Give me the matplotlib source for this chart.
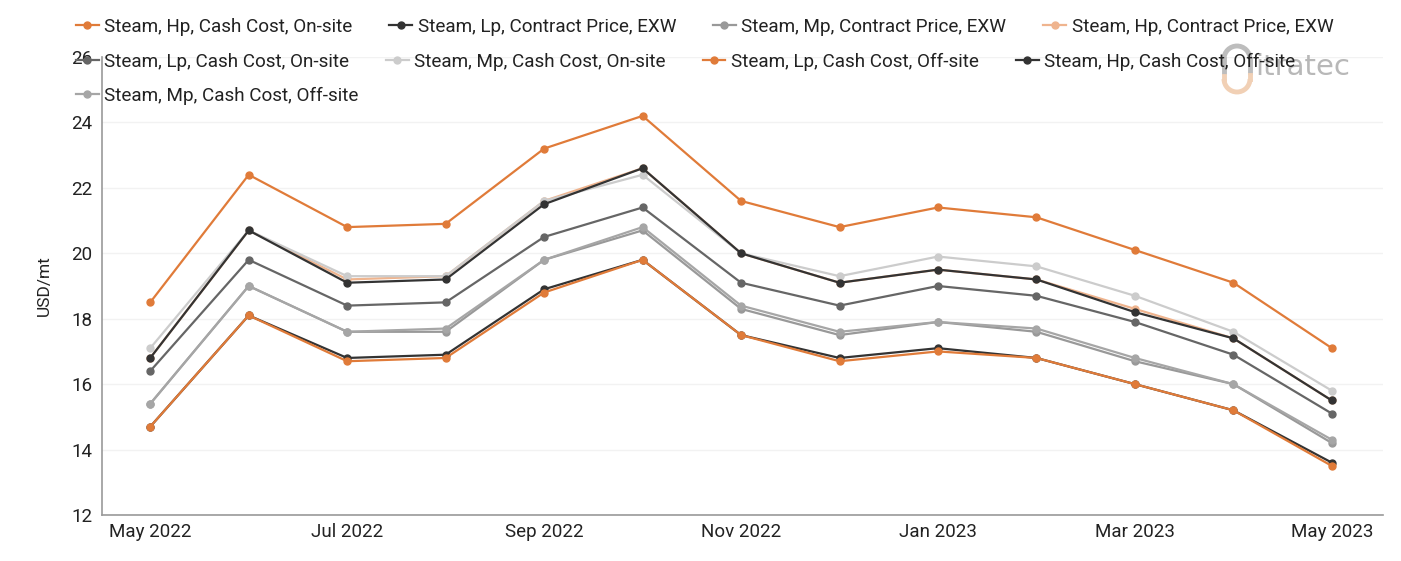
import matplotlib
matplotlib.use("Agg")
import matplotlib.pyplot as plt
from matplotlib.lines import Line2D
from matplotlib.patches import Arc

months = ["May 2022", "Jun 2022", "Jul 2022", "Aug 2022", "Sep 2022", "Oct 2022",
          "Nov 2022", "Dec 2022", "Jan 2023", "Feb 2023", "Mar 2023", "Apr 2023", "May 2023"]
tick_labels = ["May 2022", "Jul 2022", "Sep 2022", "Nov 2022", "Jan 2023", "Mar 2023", "May 2023"]

hp_cash_onsite = [18.5, 22.4, 20.8, 20.9, 23.2, 24.2, 21.6, 20.8, 21.4, 21.1, 20.1, 19.1, 17.1]
lp_contract_exw = [14.7, 18.1, 16.8, 16.9, 18.9, 19.8, 17.5, 16.8, 17.1, 16.8, 16.0, 15.2, 13.6]
mp_contract_exw = [15.4, 19.0, 17.6, 17.6, 19.8, 20.7, 18.3, 17.5, 17.9, 17.6, 16.7, 16.0, 14.2]
hp_contract_exw = [16.8, 20.7, 19.2, 19.3, 21.6, 22.6, 20.0, 19.1, 19.5, 19.2, 18.3, 17.4, 15.5]
lp_cash_onsite = [16.4, 19.8, 18.4, 18.5, 20.5, 21.4, 19.1, 18.4, 19.0, 18.7, 17.9, 16.9, 15.1]
mp_cash_onsite = [17.1, 20.7, 19.3, 19.3, 21.6, 22.4, 20.0, 19.3, 19.9, 19.6, 18.7, 17.6, 15.8]
lp_cash_offsite = [14.7, 18.1, 16.7, 16.8, 18.8, 19.8, 17.5, 16.7, 17.0, 16.8, 16.0, 15.2, 13.5]
hp_cash_offsite = [16.8, 20.7, 19.1, 19.2, 21.5, 22.6, 20.0, 19.1, 19.5, 19.2, 18.2, 17.4, 15.5]
mp_cash_offsite = [15.4, 19.0, 17.6, 17.7, 19.8, 20.8, 18.4, 17.6, 17.9, 17.7, 16.8, 16.0, 14.3]

series_names = [
    "Steam, Hp, Cash Cost, On-site", "Steam, Lp, Contract Price, EXW",
    "Steam, Mp, Contract Price, EXW", "Steam, Hp, Contract Price, EXW",
    "Steam, Lp, Cash Cost, On-site", "Steam, Mp, Cash Cost, On-site",
    "Steam, Lp, Cash Cost, Off-site", "Steam, Hp, Cash Cost, Off-site",
    "Steam, Mp, Cash Cost, Off-site",
]
series_values = [hp_cash_onsite, lp_contract_exw, mp_contract_exw, hp_contract_exw,
                 lp_cash_onsite, mp_cash_onsite, lp_cash_offsite, hp_cash_offsite,
                 mp_cash_offsite]
colors = ["#e07b39", "#333333", "#999999", "#efb48e", "#666666", "#cccccc",
          "#e07b39", "#333333", "#a6a6a6"]

plt.rcParams['font.family'] = ['Roboto', 'DejaVu Sans']

W, H = 1401, 561
fig = plt.figure(figsize=(W / 100, H / 100), dpi=100)
ax = fig.add_axes([0.0728, 0.082, 0.9144, 0.8164])

x = list(range(len(months)))
handles = []
for name, vals, c in zip(series_names, series_values, colors):
    h, = ax.plot(x, vals, color=c, lw=1.6, marker='o', ms=5, label=name)
    handles.append(h)

ax.set_xlim(-0.49, 12.52)
ax.set_ylim(12, 26)
ax.set_yticks(range(12, 27, 2))
ax.set_xticks([months.index(t) for t in tick_labels])
ax.set_xticklabels(tick_labels)
ax.tick_params(axis='both', length=0, labelsize=13.5, colors='#222222')
ax.tick_params(axis='y', pad=7)
ax.tick_params(axis='x', pad=6)
ax.grid(axis='y', color='#f2f2f2', lw=1)
ax.set_axisbelow(True)
for s in ['top', 'right']:
    ax.spines[s].set_visible(False)
for s in ['left', 'bottom']:
    ax.spines[s].set_color('#999999')
    ax.spines[s].set_linewidth(1.2)
ax.set_ylabel("USD/mt", fontsize=12.5, color='#222222', labelpad=14)

# watermark logo (above axes background, below legend)
def fx(px):
    return px / W

def fy(py):
    return 1 - py / H

r = 13
gray_logo = '#bdbdbd'
orange_logo = '#f1d0b5'
fig.add_artist(Arc((fx(1237), fy(59)), 2 * r / W, 2 * r / H, theta1=0, theta2=180,
                   transform=fig.transFigure, color=gray_logo, lw=3.5, zorder=2))
fig.add_artist(Line2D([fx(1224), fx(1224)], [fy(59), fy(72)], transform=fig.transFigure,
                      color=gray_logo, lw=3.5, zorder=2))
fig.add_artist(Line2D([fx(1250), fx(1250)], [fy(59), fy(72)], transform=fig.transFigure,
                      color=gray_logo, lw=3.5, zorder=2))
fig.add_artist(Arc((fx(1237), fy(79)), 2 * r / W, 2 * r / H, theta1=180, theta2=360,
                   transform=fig.transFigure, color=orange_logo, lw=3.5, zorder=2))
fig.add_artist(Line2D([fx(1224), fx(1224)], [fy(79), fy(76)], transform=fig.transFigure,
                      color=orange_logo, lw=3.5, zorder=2))
fig.add_artist(Line2D([fx(1250), fx(1250)], [fy(79), fy(75)], transform=fig.transFigure,
                      color=orange_logo, lw=3.5, zorder=2))
fig.text(fx(1255), fy(75), "itratec", fontsize=21, color='#b8b8b8',
         family='DejaVu Sans', ha='left', va='baseline', zorder=2)

# legend rows (flowing layout)
rows = [handles[0:4], handles[4:8], handles[8:9]]
row_y = [fy(27), fy(62), fy(96)]
for hs, yy in zip(rows, row_y):
    leg = fig.legend(handles=hs, loc='center left', bbox_to_anchor=(fx(76), yy),
                     ncol=len(hs), frameon=False, fontsize=13.6,
                     handlelength=1.2, handletextpad=0.3, columnspacing=1.95,
                     borderaxespad=0, borderpad=0)
    leg.set_zorder(5)
    for t in leg.get_texts():
        t.set_color('#222222')

fig.savefig("out.png", dpi=100)
